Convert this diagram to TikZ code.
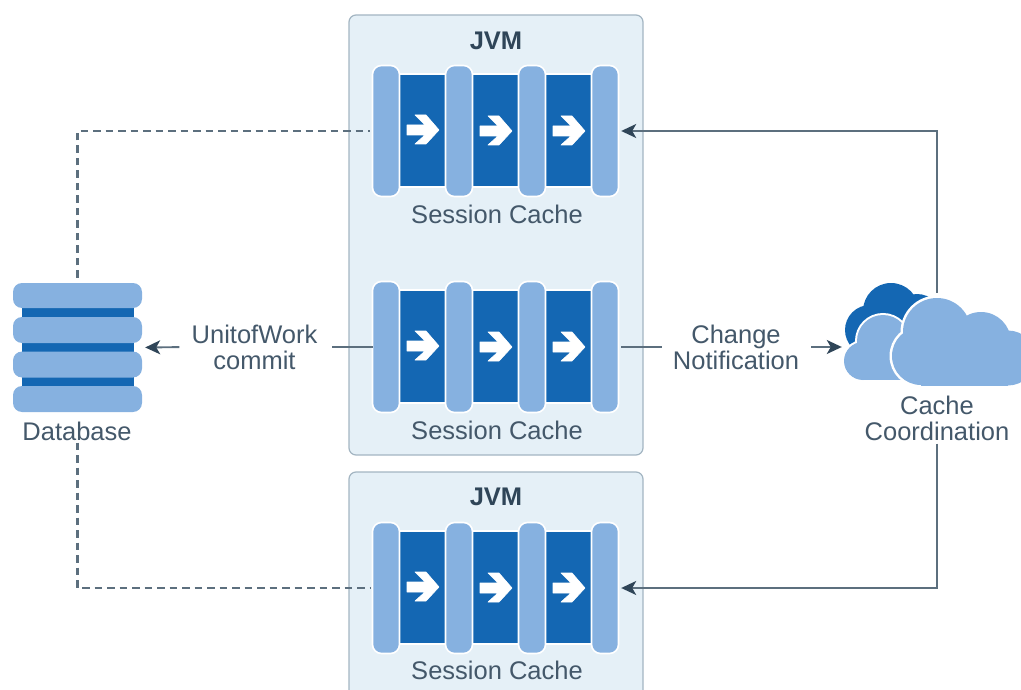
\documentclass[tikz,border=0pt]{standalone}
\usepackage{fontspec}
\setmainfont{Liberation Sans}
\usetikzlibrary{arrows.meta}
\definecolor{lightblue}{HTML}{86B1E0}
\definecolor{darkblue}{HTML}{1467B3}
\definecolor{panelfill}{HTML}{E5F0F7}
\definecolor{panelline}{HTML}{A3B5C2}
\definecolor{linecol}{HTML}{5C6F7E}
\definecolor{tipcol}{HTML}{2F4558}
\definecolor{textcol}{HTML}{44586A}
\tikzset{
  x=1pt,y=-1pt,
  lbl/.style={text=textcol,font=\fontsize{25.5}{25.5}\selectfont,align=center,inner sep=0pt},
  jvmtitle/.style={text=tipcol,font=\fontsize{25.5}{25.5}\selectfont\bfseries,inner sep=0pt},
  panelbox/.style={fill=panelfill,draw=panelline,line width=1.2pt,rounded corners=7pt},
  barbox/.style={fill=lightblue,draw=white,line width=1.6pt,rounded corners=9pt},
  corebox/.style={fill=darkblue,draw=white,line width=1.2pt},
  anchorbox/.style={inner sep=0pt,minimum width=245pt,minimum height=130pt},
  conn/.style={draw=linecol,line width=1.9pt},
  arrowconn/.style={conn,-{Stealth[length=15pt,width=14pt,inset=4pt,color=tipcol]}},
  dashconn/.style={conn,line width=2.1pt,dash pattern=on 7.5pt off 5pt},
  whitearrow/.style={fill=white,draw=white,line width=0.6pt,line join=round},
}
\newcommand{\chevron}[2]{%
  \filldraw[whitearrow] (#1,#2-5) -- (#1+18,#2-5) -- (#1+8,#2-15) -- (#1+19,#2-15) -- (#1+32,#2)
    -- (#1+19,#2+14) -- (#1+8,#2+14) -- (#1+18,#2+5) -- (#1,#2+5) -- cycle;}
\newcommand{\cachestack}[3]{% name, centre y, label y
  \node[anchorbox] (#1) at (495.5,#2) {};
  \draw[corebox] (395,#2-57) rectangle (596,#2+56);
  \draw[barbox] (372.5,#2-65.5) rectangle (399.5,#2+65.5);
  \draw[barbox] (445.5,#2-65.5) rectangle (472.5,#2+65.5);
  \draw[barbox] (518.5,#2-65.5) rectangle (545.5,#2+65.5);
  \draw[barbox] (591.5,#2-65.5) rectangle (618.5,#2+65.5);
  \chevron{407}{#2-1}
  \chevron{480}{#2}
  \chevron{553}{#2}
  \node[lbl] (#1label) at (497,#3) {Session Cache};
}
\begin{document}
\begin{tikzpicture}
\useasboundingbox (0,0) rectangle (1021,690);
\begin{scope}
\clip (0,0) rectangle (1021,690);
% panels
\draw[panelbox] (349,15) rectangle (643,455);
\draw[panelbox] (349,472) rectangle (643,720);
\node[jvmtitle] (jvma) at (496,41) {JVM};
\node[jvmtitle] (jvmb) at (496,497) {JVM};
% caches
\cachestack{cachea}{131}{214}
\cachestack{cacheb}{347}{430}
\cachestack{cachec}{588}{670}
% database
\node[inner sep=0pt,minimum width=129pt,minimum height=129pt] (db) at (77.5,347.5) {};
\fill[darkblue] (22,300) rectangle (134,395);
\foreach \t/\b in {283/308,317/343,351.5/377.5,386/412}
  \fill[lightblue,rounded corners=9pt] (13,\t) rectangle (142,\b);
\node[lbl] (dblabel) at (77,431) {Database};
% cloud
\fill[darkblue] (891,311) circle (28) (870,330) circle (25) (917,319) circle (25);
\path[fill=white,draw=white,line width=4pt]
  (863,361) circle (19) (883,341) circle (26) (905,350) circle (24) (863,361) rectangle (905,380);
\fill[lightblue]
  (863,361) circle (19) (883,341) circle (26) (905,350) circle (24);
\fill[lightblue] (863,350) rectangle (905,380);
\path[fill=white,draw=white,line width=5pt]
  (921,356) circle (29) (937,332) circle (34) (981,342) circle (30) (1008,358) circle (27.5) (921,350) rectangle (1008,385.5);
\fill[lightblue]
  (921,356) circle (29) (937,332) circle (34) (981,342) circle (30) (1008,358) circle (27.5);
\fill[lightblue] (921,345) rectangle (1008,385.5);
\node[inner sep=0pt,minimum width=170pt,minimum height=90pt] (cloud) at (937,340) {};
\node[lbl] (cloudlabel) at (937,418) {Cache\\[0.5pt]Coordination};
% labels on connectors
\node[lbl] (uow) at (254.5,347) {UnitofWork\\[0.5pt]commit};
\node[lbl] (chg) at (736,347) {Change\\[0.5pt]Notification};
% connectors
\draw[dashconn,shorten <=5pt,shorten >=3pt] (db.north) |- (cachea.west);
\draw[dashconn,shorten <=2pt,shorten >=3pt] (dblabel.south -| db.north) |- (cachec.west);
\draw[arrowconn,shorten <=2pt,shorten >=3pt] (cloud.north) |- (cachea.east);
\draw[arrowconn,shorten <=3pt,shorten >=3pt] (cloudlabel.south) |- (cachec.east);
\draw[conn,shorten >=14pt] (cacheb.west) -- (uow.east);
\draw[arrowconn,shorten <=12pt,shorten >=3pt] (uow.west) -- (db.east);
\draw[conn,shorten <=3pt,shorten >=11pt] (cacheb.east) -- (chg.west);
\draw[arrowconn,shorten <=12pt,shorten >=10pt] (chg.east) -- (cloud.west |- chg.east);
\end{scope}
\end{tikzpicture}
\end{document}
